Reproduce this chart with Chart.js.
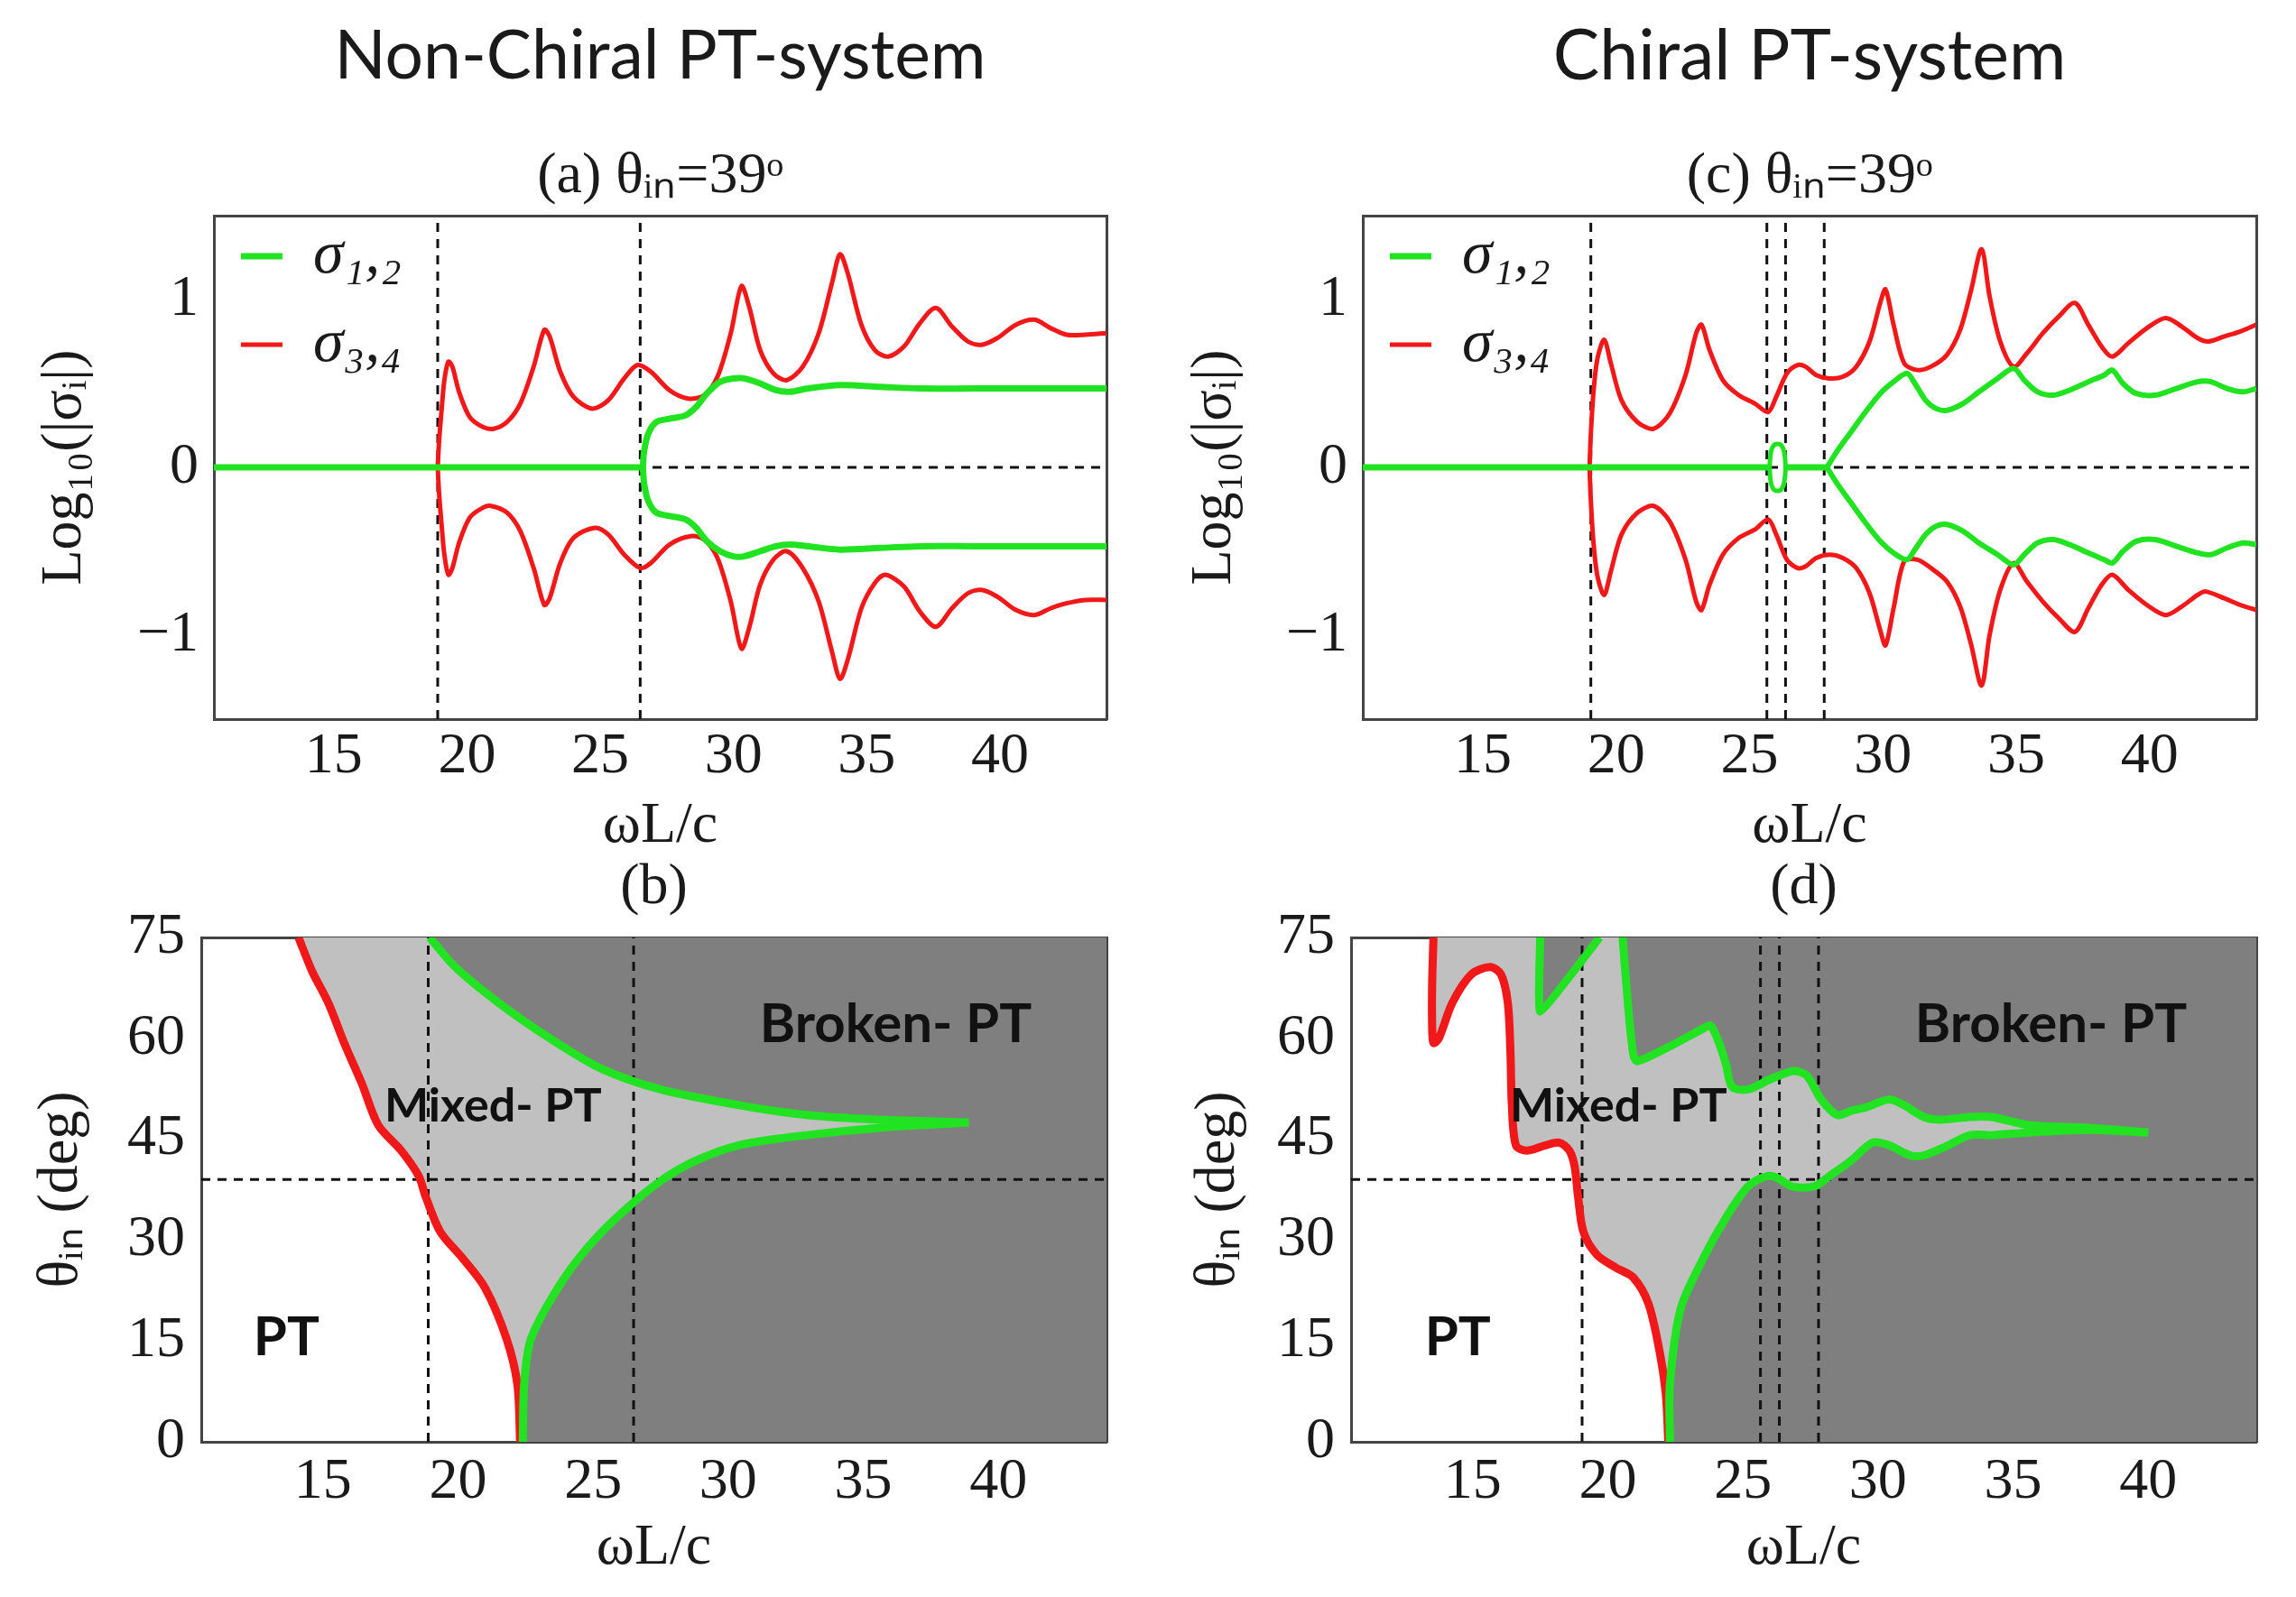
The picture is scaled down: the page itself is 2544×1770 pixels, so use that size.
<!DOCTYPE html>
<html>
<head>
<meta charset="utf-8">
<script src="https://cdn.jsdelivr.net/npm/chart.js@4.4.1/dist/chart.umd.min.js"></script>
<style>
  html, body { margin: 0; padding: 0; background: #fff; }
  body { width: 2544px; height: 1770px; position: relative; overflow: hidden; }
  canvas { position: absolute; }
</style>
</head>
<body>
<canvas id="panelA" width="1272" height="957" style="left:0;top:0;width:1272px;height:957px"></canvas>
<canvas id="panelC" width="1272" height="957" style="left:1272px;top:0;width:1272px;height:957px"></canvas>
<canvas id="panelB" width="1272" height="830" style="left:0;top:940px;width:1272px;height:830px"></canvas>
<canvas id="panelD" width="1272" height="830" style="left:1272px;top:940px;width:1272px;height:830px"></canvas>
<script>
const SERIF = "'Liberation Serif', 'Times New Roman', serif";
const SANS = "Lato, 'Open Sans', sans-serif";
const INK = "#1a1a1a";
const FRAME = "#444";
const RED = "#f01818";
const GREEN = "#22e322";
const LIGHT = "#c0c0c0";
const DARK = "#7f7f7f";

// axes
const xRange = [10.5, 44];
const xTicks = [15, 20, 25, 30, 35, 40];
const sigmaRange = [-1.5, 1.5];
const sigmaTicks = [-1, 0, 1];
const thetaRange = [0, 75];
const thetaTicks = [0, 15, 30, 45, 60, 75];
const thetaCut = 39;

// (a) non-chiral, theta_in = 39
const greenFlatA = [[10.5,0],[26.6,0]];
const greenUpA = [[26.6,0],[26.65,0.1],[26.8,0.2],[27.1,0.27],[27.6,0.29],[28.2,0.31],[28.6,0.36],[29.0,0.44],[29.5,0.51],[30.0,0.53],[30.4,0.53],[31.0,0.5],[31.6,0.46],[32.1,0.45],[32.8,0.47],[34.0,0.49],[35.5,0.48],[37.0,0.47],[39.0,0.47],[41.0,0.47],[44.0,0.47]];
const greenLowA = [[26.6,0],[26.65,-0.1],[26.8,-0.2],[27.1,-0.27],[27.6,-0.29],[28.2,-0.31],[28.6,-0.36],[29.0,-0.44],[29.5,-0.5],[30.0,-0.53],[30.4,-0.53],[31.0,-0.5],[31.6,-0.47],[32.1,-0.46],[32.8,-0.47],[34.0,-0.49],[35.5,-0.48],[37.0,-0.47],[39.0,-0.47],[41.0,-0.47],[44.0,-0.47]];
const redUpA = [[18.9,0],[18.95,0.15],[19.05,0.35],[19.15,0.52],[19.3,0.63],[19.45,0.6],[19.7,0.45],[20.1,0.3],[20.6,0.24],[21.0,0.23],[21.5,0.27],[22.0,0.38],[22.5,0.6],[22.9,0.82],[23.1,0.78],[23.5,0.57],[24.0,0.42],[24.7,0.35],[25.3,0.4],[25.9,0.53],[26.4,0.61],[26.9,0.57],[27.6,0.46],[28.3,0.41],[28.9,0.43],[29.4,0.54],[29.9,0.8],[30.3,1.08],[30.6,0.95],[31.0,0.7],[31.5,0.56],[32.0,0.52],[32.6,0.6],[33.2,0.8],[33.7,1.1],[34.0,1.27],[34.3,1.15],[34.8,0.85],[35.3,0.7],[35.8,0.66],[36.4,0.72],[37.0,0.86],[37.6,0.95],[38.2,0.84],[38.8,0.75],[39.3,0.73],[39.9,0.77],[40.6,0.85],[41.3,0.88],[41.9,0.83],[42.5,0.79],[43.2,0.79],[44.0,0.8]];
const redLowA = [[18.9,0],[18.95,-0.15],[19.05,-0.35],[19.15,-0.52],[19.3,-0.64],[19.45,-0.6],[19.7,-0.45],[20.1,-0.3],[20.6,-0.24],[20.9,-0.23],[21.5,-0.27],[22.0,-0.38],[22.5,-0.6],[22.9,-0.82],[23.1,-0.78],[23.5,-0.57],[24.0,-0.42],[24.8,-0.36],[25.3,-0.4],[25.9,-0.52],[26.5,-0.6],[26.9,-0.57],[27.6,-0.46],[28.4,-0.41],[28.9,-0.43],[29.4,-0.54],[29.9,-0.8],[30.3,-1.08],[30.6,-0.95],[31.0,-0.7],[31.5,-0.55],[32.0,-0.5],[32.6,-0.6],[33.2,-0.8],[33.7,-1.1],[34.0,-1.26],[34.3,-1.14],[34.8,-0.84],[35.3,-0.69],[35.7,-0.64],[36.4,-0.71],[37.0,-0.86],[37.6,-0.95],[38.2,-0.84],[38.8,-0.75],[39.3,-0.73],[39.9,-0.77],[40.6,-0.85],[41.3,-0.88],[41.9,-0.84],[42.5,-0.81],[43.2,-0.79],[44.0,-0.79]];
const cutsA = [18.9, 26.5];

// (c) chiral, theta_in = 39
const greenFlatC = [[10.5,0],[25.75,0]];
const greenLoopC = [[25.75,0],[25.8,0.09],[25.9,0.13],[26.05,0.14],[26.2,0.13],[26.3,0.09],[26.35,0],[26.3,-0.09],[26.2,-0.13],[26.05,-0.14],[25.9,-0.13],[25.8,-0.09],[25.75,0]];
const greenMidC = [[26.35,0],[27.9,0]];
const greenUpC = [[27.9,0],[28.3,0.1],[28.8,0.21],[29.3,0.32],[29.9,0.44],[30.4,0.51],[30.9,0.56],[31.2,0.5],[31.6,0.4],[32.0,0.35],[32.4,0.34],[33.0,0.38],[33.6,0.45],[34.3,0.53],[34.9,0.59],[35.3,0.52],[35.8,0.45],[36.4,0.43],[37.0,0.46],[37.7,0.51],[38.3,0.55],[38.6,0.58],[39.0,0.5],[39.5,0.44],[40.2,0.43],[41.0,0.47],[41.8,0.51],[42.3,0.51],[42.9,0.47],[43.5,0.45],[44.0,0.47]];
const greenLowC = [[27.9,0],[28.3,-0.1],[28.8,-0.21],[29.3,-0.32],[29.9,-0.44],[30.4,-0.51],[30.9,-0.55],[31.2,-0.49],[31.6,-0.4],[32.0,-0.35],[32.4,-0.34],[33.0,-0.38],[33.6,-0.45],[34.3,-0.52],[34.9,-0.58],[35.3,-0.52],[35.8,-0.45],[36.4,-0.43],[37.0,-0.46],[37.7,-0.51],[38.3,-0.55],[38.6,-0.57],[39.0,-0.5],[39.5,-0.44],[40.2,-0.43],[41.0,-0.47],[41.8,-0.51],[42.3,-0.52],[42.9,-0.48],[43.5,-0.45],[44.0,-0.46]];
const redUpC = [[19.0,0],[19.05,0.2],[19.15,0.45],[19.3,0.65],[19.55,0.76],[19.8,0.62],[20.2,0.4],[20.8,0.27],[21.4,0.23],[22.0,0.32],[22.6,0.55],[23.0,0.8],[23.2,0.85],[23.5,0.7],[24.0,0.52],[24.6,0.43],[25.2,0.38],[25.7,0.33],[26.0,0.42],[26.4,0.56],[26.8,0.61],[27.1,0.6],[27.5,0.55],[28.0,0.53],[28.5,0.54],[29.0,0.6],[29.5,0.75],[29.9,0.98],[30.1,1.06],[30.4,0.85],[30.8,0.62],[31.3,0.58],[31.8,0.6],[32.4,0.67],[32.9,0.82],[33.3,1.05],[33.7,1.3],[34.0,1.02],[34.4,0.75],[34.9,0.6],[35.4,0.68],[36.0,0.8],[36.6,0.9],[37.2,0.98],[37.7,0.85],[38.2,0.72],[38.6,0.66],[39.2,0.74],[39.9,0.83],[40.6,0.89],[41.2,0.84],[41.8,0.77],[42.2,0.75],[42.8,0.78],[43.4,0.81],[44.0,0.85]];
const redLowC = [[19.0,0],[19.05,-0.2],[19.15,-0.45],[19.3,-0.65],[19.55,-0.76],[19.8,-0.62],[20.2,-0.4],[20.8,-0.27],[21.4,-0.23],[22.0,-0.32],[22.6,-0.55],[23.0,-0.8],[23.2,-0.85],[23.5,-0.7],[24.0,-0.52],[24.6,-0.42],[25.2,-0.37],[25.7,-0.31],[26.0,-0.4],[26.4,-0.55],[26.8,-0.6],[27.1,-0.59],[27.5,-0.54],[28.0,-0.52],[28.5,-0.54],[29.0,-0.6],[29.5,-0.75],[29.9,-0.97],[30.1,-1.06],[30.4,-0.84],[30.8,-0.56],[31.3,-0.55],[31.8,-0.6],[32.4,-0.68],[32.9,-0.83],[33.3,-1.05],[33.7,-1.3],[34.0,-1.0],[34.4,-0.73],[34.9,-0.57],[35.4,-0.68],[36.0,-0.8],[36.6,-0.9],[37.2,-0.98],[37.7,-0.84],[38.2,-0.7],[38.6,-0.64],[39.2,-0.73],[39.9,-0.82],[40.6,-0.88],[41.2,-0.83],[41.8,-0.76],[42.1,-0.74],[42.8,-0.78],[43.4,-0.82],[44.0,-0.85]];
const cutsC = [19.05, 25.65, 26.35, 27.8];

// (b) non-chiral phase diagram (omega L / c, theta_in)
const redB = [[22.3,0],[22.2,8.5],[21.8,15.3],[21.0,22.9],[20.15,27.4],[19.35,31.2],[18.8,36.5],[18.55,39.5],[17.9,43.3],[17.05,47.1],[16.45,53.2],[15.8,59.2],[15.2,65.3],[14.6,70],[14.1,75]];
const greenLowB = [[22.4,0],[22.45,8.5],[22.7,15.3],[23.7,22.9],[24.8,28.9],[26.1,34.2],[27.5,38.8],[28.8,41.8],[30.4,44.1],[32.9,45.6],[35.6,46.7],[38.9,47.5]];
const greenUpB = [[18.95,75],[19.9,70.6],[21.5,65.3],[23.4,60],[25.3,55.5],[27.5,52.4],[30.2,50.2],[32.9,48.6],[35.6,47.9],[38.9,47.5]];
const labelsB = [
  {text: "Broken- PT", x: 36.2, y: 62},
  {text: "Mixed- PT", x: 21.3, y: 49.9},
  {text: "PT", x: 13.65, y: 15.5}
];

// (d) chiral phase diagram
const redD = [[22.24,0],[22.15,7],[21.9,13.8],[21.5,20.6],[20.95,24.4],[20.3,25.9],[19.6,27.8],[19.1,31.2],[18.9,36.5],[18.77,41],[18.58,43.3],[18.2,44.5],[17.7,44.1],[17.0,43.3],[16.6,44.1],[16.45,50.2],[16.4,57.7],[16.3,65.3],[16.05,69.5],[15.65,70.6],[14.95,69.5],[14.25,65.3],[13.75,60],[13.55,59.3],[13.5,62],[13.5,68],[13.55,75]];
const greenToothD = [[17.5,75],[17.5,64],[19.7,75]];
const greenUpD = [[20.55,75],[20.75,65],[20.95,57.5],[21.1,56.6],[22.2,58.6],[23.0,60.3],[23.55,61.5],[23.8,61.9],[24.1,59.5],[24.37,56.2],[24.6,52.8],[25.2,52.4],[26.0,53.9],[26.8,55.1],[27.1,55.0],[27.4,54.3],[27.9,50.9],[28.5,48.6],[29.0,49.2],[29.6,49.8],[30.4,50.9],[30.9,50.2],[31.7,48.3],[32.3,47.9],[33.4,48.3],[34.2,48.3],[35.6,47.1],[37.8,46.7],[40.0,46.0]];
const greenLowD = [[22.3,0],[22.3,8.5],[22.7,19.8],[23.55,27.4],[24.4,33.5],[25.2,38],[25.9,39.5],[26.3,39.2],[26.8,38],[27.65,38],[28.2,39.5],[29.0,41.8],[29.8,44.5],[30.4,44.1],[31.2,42.6],[31.7,42.6],[32.6,44.1],[33.4,45.6],[34.2,45.6],[35.6,46],[37.8,46.4],[40.0,46.0]];
const labelsD = [
  {text: "Broken- PT", x: 36.4, y: 62},
  {text: "Mixed- PT", x: 20.4, y: 49.9},
  {text: "PT", x: 14.45, y: 15.5}
];

const labelSize = {"Broken- PT": 60, "Mixed- PT": 52, "PT": 60};

const pts = arr => arr.map(([x, y]) => ({x, y}));

const line = (data, color, width, extra) => Object.assign({
  data: pts(data), showLine: true, borderColor: color, borderWidth: width,
  pointRadius: 0, pointHoverRadius: 0, fill: false, tension: 0.3, clip: 0
}, extra);

const dashed = data => line(data, "#111", 3, {borderDash: [10, 8], tension: 0, order: 5});

const area = (data, color, order) => ({
  data: pts(data), showLine: true, borderWidth: 0, borderColor: color, backgroundColor: color,
  pointRadius: 0, fill: "shape", tension: 0, order: order, clip: 0
});

const vcuts = (xs, range) => xs.map(v => dashed([[v, range[0]], [v, range[1]]]));

// corners of the plot, used to close the shaded regions
const topRight = [xRange[1], thetaRange[1]];
const botRight = [xRange[1], thetaRange[0]];

const regionText = items => ({
  id: "regionText",
  afterDatasetsDraw(chart) {
    const {ctx, scales} = chart;
    ctx.save();
    ctx.fillStyle = "#111";
    ctx.textAlign = "center";
    ctx.textBaseline = "middle";
    items.forEach(it => {
      ctx.font = "bold " + labelSize[it.text] + "px " + SANS;
      ctx.fillText(it.text, scales.x.getPixelForValue(it.x), scales.y.getPixelForValue(it.y));
    });
    ctx.restore();
  }
});

const fmt = v => v < 0 ? "\u2212" + (-v) : String(v);

function makePanel(id, p) {
  const tickFont = {family: SERIF, size: 64};
  return new Chart(document.getElementById(id), {
    type: "scatter",
    data: {datasets: p.datasets},
    plugins: p.labels ? [regionText(p.labels)] : [],
    options: {
      responsive: false,
      animation: false,
      devicePixelRatio: 1,
      layout: {padding: {left: 0, right: p.padRight, top: 0, bottom: 0}},
      plugins: {
        title: {
          display: true, text: p.heading, fullSize: false, color: INK,
          font: p.headingFont, padding: p.headingPad
        },
        subtitle: {
          display: !!p.sub, text: p.sub || "", fullSize: false, color: INK,
          font: {family: SERIF, size: 64, weight: "normal"}, padding: {top: 0, bottom: 4.2}
        },
        legend: p.legend ? {
          display: true, position: "chartArea", align: "start",
          // the legend box starts at the canvas top, so an empty title pushes it into the frame
          title: {display: true, text: " ", font: {size: 10}, padding: {top: 208, bottom: 0}},
          labels: {
            filter: item => !!item.text,
            usePointStyle: true, pointStyle: "line", pointStyleWidth: 46,
            padding: 30, color: INK,
            font: {family: SERIF, size: 68, style: "italic"}
          }
        } : {display: false},
        tooltip: {enabled: false}
      },
      scales: {
        x: {
          type: "linear", position: "bottom", min: xRange[0], max: xRange[1],
          afterBuildTicks: s => { s.ticks = xTicks.map(v => ({value: v})); },
          afterFit: s => { s.height = p.xHeight; },
          grid: {display: false, drawTicks: false},
          border: {display: true, color: FRAME, width: 3},
          ticks: {padding: p.xTickPad, font: tickFont, color: INK, maxRotation: 0, autoSkip: false},
          title: {display: true, text: "ωL/c", font: tickFont, color: INK, padding: {top: 0, bottom: p.xTitlePad}}
        },
        y: {
          type: "linear", position: "left", min: p.yRange[0], max: p.yRange[1],
          afterBuildTicks: s => { s.ticks = p.yTicks.map(v => ({value: v})); },
          afterFit: s => { s.width = p.yWidth; },
          grid: {display: false, drawTicks: false},
          border: {display: true, color: FRAME, width: 3},
          ticks: {padding: p.yTickPad, font: tickFont, color: INK, autoSkip: false, callback: fmt},
          title: {display: true, text: p.yTitle, font: tickFont, color: INK, padding: {top: p.yTitlePad, bottom: 0}}
        },
        x2: {
          type: "linear", position: "top", min: xRange[0], max: xRange[1],
          afterFit: s => { s.height = 0; },
          grid: {display: false, drawTicks: false},
          border: {display: true, color: FRAME, width: 3},
          ticks: {display: false}
        },
        y2: {
          type: "linear", position: "right", min: p.yRange[0], max: p.yRange[1],
          afterFit: s => { s.width = 0; },
          grid: {display: false, drawTicks: false},
          border: {display: true, color: FRAME, width: 3},
          ticks: {display: false}
        }
      }
    }
  });
}

const letterFont = {family: SERIF, size: 64, weight: "normal"};
const letterPad = {top: 6, bottom: 16.2};

makePanel("panelA", {
  heading: "Non-Chiral PT-system", headingFont: {family: SANS, size: 75, weight: "normal"},
  headingPad: {top: 18, bottom: 50},
  sub: "(a) θᵢₙ=39ᵒ", legend: true,
  padRight: 46, yWidth: 237, yTickPad: 17, yTitlePad: 34,
  xHeight: 160, xTickPad: 4, xTitlePad: 2,
  yRange: sigmaRange, yTicks: sigmaTicks, yTitle: "Log₁₀(|σᵢ|)",
  datasets: [
    line(greenFlatA, GREEN, 7, {label: "σ₁,₂", order: 1, tension: 0}),
    line(greenUpA, GREEN, 7, {order: 1}),
    line(greenLowA, GREEN, 7, {order: 1}),
    line(redUpA, RED, 5, {label: "σ₃,₄", order: 2}),
    line(redLowA, RED, 5, {order: 2}),
    ...vcuts(cutsA, sigmaRange),
    dashed([[xRange[0], 0], [xRange[1], 0]])
  ]
});

makePanel("panelC", {
  heading: "Chiral PT-system", headingFont: {family: SANS, size: 77, weight: "normal"},
  headingPad: {top: 17, bottom: 48.6},
  sub: "(c) θᵢₙ=39ᵒ", legend: true,
  padRight: 44, yWidth: 238, yTickPad: 17, yTitlePad: 36,
  xHeight: 160, xTickPad: 4, xTitlePad: 2,
  yRange: sigmaRange, yTicks: sigmaTicks, yTitle: "Log₁₀(|σᵢ|)",
  datasets: [
    line(greenFlatC, GREEN, 7, {label: "σ₁,₂", order: 1, tension: 0}),
    line(greenLoopC, GREEN, 5, {order: 1}),
    line(greenMidC, GREEN, 7, {order: 1, tension: 0}),
    line(greenUpC, GREEN, 6, {order: 1}),
    line(greenLowC, GREEN, 6, {order: 1}),
    line(redUpC, RED, 5, {label: "σ₃,₄", order: 2}),
    line(redLowC, RED, 5, {order: 2}),
    ...vcuts(cutsC, sigmaRange),
    dashed([[xRange[0], 0], [xRange[1], 0]])
  ]
});

makePanel("panelB", {
  heading: "(b)", headingFont: letterFont, headingPad: letterPad,
  labels: labelsB,
  padRight: 46, yWidth: 223, yTickPad: 18, yTitlePad: 30,
  xHeight: 172, xTickPad: 7, xTitlePad: 15.6,
  yRange: thetaRange, yTicks: thetaTicks, yTitle: "θᵢₙ (deg)",
  datasets: [
    line(greenLowB, GREEN, 9, {order: 1}),
    line(greenUpB, GREEN, 9, {order: 1}),
    line(redB, RED, 9, {order: 2}),
    ...vcuts(cutsA, thetaRange),
    dashed([[xRange[0], thetaCut], [xRange[1], thetaCut]]),
    area(greenLowB.concat(greenUpB.slice().reverse(), [topRight, botRight]), DARK, 9),
    area(redB.concat([topRight, botRight]), LIGHT, 10)
  ]
});

makePanel("panelD", {
  heading: "(d)", headingFont: letterFont, headingPad: letterPad,
  labels: labelsD,
  padRight: 44, yWidth: 225, yTickPad: 18, yTitlePad: 40,
  xHeight: 172, xTickPad: 7, xTitlePad: 15.6,
  yRange: thetaRange, yTicks: thetaTicks, yTitle: "θᵢₙ (deg)",
  datasets: [
    line(greenToothD, GREEN, 9, {order: 1, tension: 0.1}),
    line(greenLowD, GREEN, 9, {order: 1}),
    line(greenUpD, GREEN, 9, {order: 1}),
    line(redD, RED, 9, {order: 2}),
    ...vcuts(cutsC, thetaRange),
    dashed([[xRange[0], thetaCut], [xRange[1], thetaCut]]),
    area(greenToothD, DARK, 9),
    area(greenLowD.concat(greenUpD.slice().reverse(), [topRight, botRight]), DARK, 9),
    area(redD.concat([topRight, botRight]), LIGHT, 10)
  ]
});
</script>
</body>
</html>
